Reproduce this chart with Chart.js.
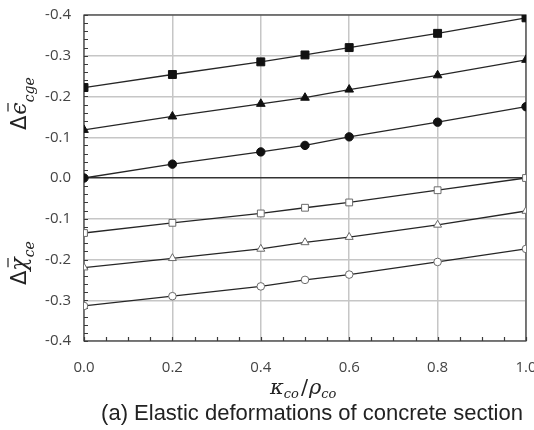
<!DOCTYPE html>
<html>
<head>
<meta charset="utf-8">
<script src="https://cdn.jsdelivr.net/npm/chart.js@4.4.1/dist/chart.umd.min.js"></script>
<style>
  body { margin: 0; background: #fff; }
  #wrap { width: 534px; height: 430px; position: relative; }
</style>
</head>
<body>
<div id="wrap"><canvas id="chart"></canvas></div>
<script>
// x positions (kappa_co / rho_co)
const ratios = [0, 0.2, 0.4, 0.5, 0.6, 0.8, 1.0];

// upper half: strain change (negative, plotted upward)
const epsSquare   = [-0.222, -0.254, -0.285, -0.302, -0.320, -0.355, -0.393];
const epsTriangle = [-0.118, -0.151, -0.182, -0.197, -0.217, -0.252, -0.290];
const epsCircle   = [0.000, -0.034, -0.064, -0.080, -0.101, -0.137, -0.175];

// lower half: curvature change (negative, plotted downward)
const chiSquare   = [-0.135, -0.110, -0.087, -0.073, -0.060, -0.030, 0.000];
const chiTriangle = [-0.220, -0.197, -0.174, -0.158, -0.145, -0.115, -0.081];
const chiCircle   = [-0.314, -0.290, -0.266, -0.250, -0.237, -0.206, -0.174];

const xTicks = [0, 0.2, 0.4, 0.6, 0.8, 1.0];

Chart.defaults.font.family = 'Open Sans';
Chart.defaults.font.size = 15;

function pts(vals, flip) {
    return vals.map((v, i) => ({ x: ratios[i], y: flip ? -v : v }));
}

function series(vals, flip, style, filled) {
    return {
        data: pts(vals, flip),
        showLine: true,
        borderColor: '#262626',
        borderWidth: 1.3,
        pointStyle: style,
        pointRadius: filled ? (style === 'rect' ? 5.6 : style === 'triangle' ? 5 : 4.2)
                            : (style === 'rect' ? 4.8 : style === 'triangle' ? 4.6 : 3.8),
        pointBackgroundColor: filled ? '#111' : '#fff',
        pointBorderColor: filled ? '#111' : '#6a6a6a',
        pointBorderWidth: 1,
        tension: 0
    };
}

// draws a run of text pieces along the local x axis
function drawPieces(ctx, pieces) {
    let x = 0;
    pieces.forEach(p => {
        ctx.font = p.font;
        const w = ctx.measureText(p.text).width;
        ctx.fillText(p.text, x + (p.dx || 0), p.dy || 0);
        if (p.bar) {
            ctx.beginPath();
            ctx.moveTo(x + w * 0.25, p.bar);
            ctx.lineTo(x + w * 0.95, p.bar);
            ctx.lineWidth = 1.2;
            ctx.stroke();
        }
        x += w + (p.dx || 0) + (p.gap || 0);
    });
}

const framePlugin = {
    id: 'frame',
    beforeDatasetsDraw(chart) {
        const { ctx, chartArea: a, scales } = chart;
        ctx.save();
        ctx.strokeStyle = '#3a3a3a';
        ctx.lineWidth = 1.2;
        // minor ticks on left and bottom axes, pointing inward
        ctx.beginPath();
        for (let i = -40; i <= 40; i += 2) {
            const y = Math.round(scales.y.getPixelForValue(i / 100)) + 0.5;
            ctx.moveTo(a.left, y);
            ctx.lineTo(a.left + 4, y);
        }
        for (let i = 0; i <= 100; i += 5) {
            const x = Math.round(scales.x.getPixelForValue(i / 100)) + 0.5;
            ctx.moveTo(x, a.bottom);
            ctx.lineTo(x, a.bottom - 4);
        }
        ctx.stroke();
        ctx.strokeRect(a.left, a.top, a.right - a.left, a.bottom - a.top);
        ctx.restore();
    },
    afterDraw(chart) {
        const ctx = chart.ctx;
        ctx.save();
        ctx.fillStyle = '#222';
        ctx.strokeStyle = '#222';
        ctx.textBaseline = 'alphabetic';
        ctx.textAlign = 'left';

        // upper y title
        ctx.save();
        ctx.translate(26, 130);
        ctx.rotate(-Math.PI / 2);
        drawPieces(ctx, [
            { text: '\u0394', font: '21px "DejaVu Sans"', gap: 1 },
            { text: '\u03f5', font: 'italic 22px "DejaVu Serif"', bar: -18, gap: 0 },
            { text: 'cge', font: 'italic 14px "DejaVu Serif"', dy: 8 }
        ]);
        ctx.restore();

        // lower y title
        ctx.save();
        ctx.translate(26, 285);
        ctx.rotate(-Math.PI / 2);
        drawPieces(ctx, [
            { text: '\u0394', font: '21px "DejaVu Sans"', gap: 0 },
            { text: '\u03c7', font: 'italic 22px "DejaVu Serif"', bar: -18, gap: 0 },
            { text: 'ce', font: 'italic 14px "DejaVu Serif"', dy: 8 }
        ]);
        ctx.restore();

        // x title
        ctx.save();
        ctx.translate(270, 394);
        drawPieces(ctx, [
            { text: '\u03ba', font: 'italic 21px "DejaVu Serif"' },
            { text: 'co', font: 'italic 13px "DejaVu Serif"', dy: 4, gap: 2 },
            { text: '/', font: '21px "DejaVu Serif"', gap: 1 },
            { text: '\u03c1', font: 'italic 21px "DejaVu Serif"' },
            { text: 'co', font: 'italic 13px "DejaVu Serif"', dy: 4 }
        ]);
        ctx.restore();

        // caption
        ctx.font = '22px "Liberation Sans"';
        ctx.textAlign = 'center';
        ctx.fillText('(a) Elastic deformations of concrete section', 312, 420);
        ctx.restore();
    }
};

new Chart(document.getElementById('chart').getContext('2d'), {
    type: 'scatter',
    data: {
        datasets: [
            series(epsSquare, true, 'rect', true),
            series(epsTriangle, true, 'triangle', true),
            series(epsCircle, true, 'circle', true),
            series(chiSquare, false, 'rect', false),
            series(chiTriangle, false, 'triangle', false),
            series(chiCircle, false, 'circle', false)
        ]
    },
    options: {
        responsive: true,
        maintainAspectRatio: false,
        animation: false,
        layout: { padding: { top: 15, right: 8, left: 0, bottom: 0 } },
        plugins: { legend: { display: false }, tooltip: { enabled: false } },
        scales: {
            x: {
                type: 'linear',
                min: 0, max: 1,
                afterBuildTicks: s => { s.ticks = xTicks.map(v => ({ value: v })); },
                afterFit: s => { s.height = 89; s.paddingLeft = 0; s.paddingRight = 0; },
                grid: { color: '#c6c6c6', lineWidth: 1.5, drawTicks: false },
                border: { display: false },
                ticks: {
                    padding: 18,
                    color: '#444',
                    font: { family: 'Open Sans', size: 15 },
                    callback: v => v.toFixed(1)
                }
            },
            y: {
                min: -0.4, max: 0.4,
                afterFit: s => { s.width = 84; s.paddingTop = 0; s.paddingBottom = 0; },
                grid: {
                    color: c => Math.abs(c.tick.value) < 1e-6 ? '#333' : '#c6c6c6',
                    lineWidth: 1.5,
                    drawTicks: false
                },
                border: { display: false },
                ticks: {
                    stepSize: 0.1,
                    padding: 13,
                    color: '#444',
                    font: { family: 'Open Sans', size: 15 },
                    callback: v => {
                        const r = Math.round(v * 10) / 10;
                        if (r === 0) return '0.0';
                        return r > 0 ? '-' + r.toFixed(1) : r.toFixed(1);
                    }
                }
            }
        }
    },
    plugins: [framePlugin]
});
</script>
</body>
</html>
